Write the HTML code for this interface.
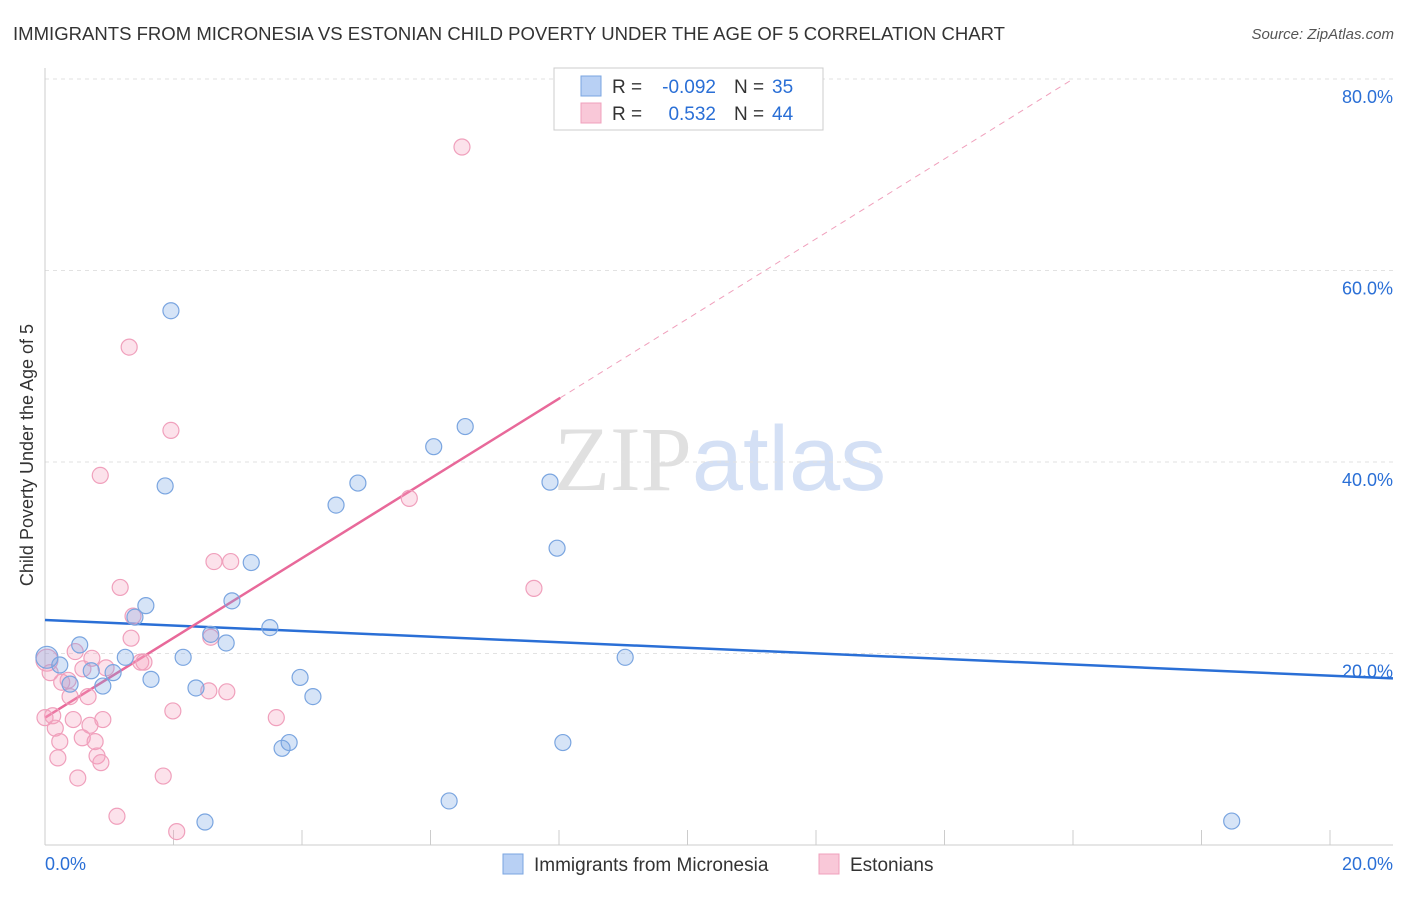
<!DOCTYPE html>
<html><head><meta charset="utf-8"><style>
body{margin:0;background:#fff;font-family:"Liberation Sans",sans-serif;}
</style></head><body>
<svg id="chart" width="1406" height="892" xmlns="http://www.w3.org/2000/svg" font-family="Liberation Sans, sans-serif">
<text x="13" y="40" font-size="18" fill="#333" textLength="992" lengthAdjust="spacingAndGlyphs">IMMIGRANTS FROM MICRONESIA VS ESTONIAN CHILD POVERTY UNDER THE AGE OF 5 CORRELATION CHART</text>
<text x="1394" y="39" font-size="15" fill="#555" text-anchor="end" font-style="italic">Source: ZipAtlas.com</text>
<text x="720" y="490" font-size="92" text-anchor="middle" fill="#ddd" opacity="0.6"><tspan font-family="Liberation Serif, serif" fill="#ccc">ZIP</tspan><tspan fill="#b8cdf0">atlas</tspan></text>
<text transform="translate(33,455) rotate(-90)" font-size="18" fill="#333" text-anchor="middle">Child Poverty Under the Age of 5</text>
<g id="grid"></g><g id="axes"></g><g id="lines"></g><g id="pts"></g>
<g>
<rect x="554" y="68" width="269" height="62" fill="#fff" stroke="#ccc"/>
<rect x="581" y="76" width="20" height="20" fill="#b8d0f4" stroke="#7aa5e0"/>
<rect x="581" y="103" width="20" height="20" fill="#f9c8d8" stroke="#f0a0bc"/>
<text x="612" y="93" font-size="19" fill="#333">R =</text>
<text x="716" y="93" font-size="19" fill="#2a6fd6" text-anchor="end">-0.092</text>
<text x="734" y="93" font-size="19" fill="#333">N =</text>
<text x="772" y="93" font-size="19" fill="#2a6fd6">35</text>
<text x="612" y="120" font-size="19" fill="#333">R =</text>
<text x="716" y="120" font-size="19" fill="#2a6fd6" text-anchor="end">0.532</text>
<text x="734" y="120" font-size="19" fill="#333">N =</text>
<text x="772" y="120" font-size="19" fill="#2a6fd6">44</text>
</g>
<g>
<rect x="503" y="854" width="20" height="20" fill="#b8d0f4" stroke="#7aa5e0"/>
<text x="534" y="871" font-size="19" fill="#333">Immigrants from Micronesia</text>
<rect x="819" y="854" width="20" height="20" fill="#f9c8d8" stroke="#f0a0bc"/>
<text x="850" y="871" font-size="19" fill="#333">Estonians</text>
</g>
</svg>
<script>
const xTicks=[0,2,4,6,8,10,12,14,16,18,20];
const yTicks=[20,40,60,80];
const blueX=[0.03,0.23,0.39,0.54,0.72,0.90,1.06,1.25,1.57,1.65,1.87,1.96,2.15,2.35,2.58,2.82,2.91,3.21,3.50,3.69,3.80,3.97,4.17,4.53,4.87,6.05,6.29,6.54,7.86,7.97,8.06,9.03,18.47,2.49,1.40];
const blueY=[19.6,18.8,16.8,20.9,18.2,16.6,18.0,19.6,25.0,17.3,37.5,55.8,19.6,16.4,22.0,21.1,25.5,29.5,22.7,10.1,10.7,17.5,15.5,35.5,37.8,41.6,4.6,43.7,37.9,31.0,10.7,19.6,2.5,2.4,23.8];
const pinkX=[0.03,0.08,0.12,0.16,0.20,0.23,0.26,0.36,0.39,0.44,0.47,0.51,0.58,0.59,0.67,0.70,0.73,0.78,0.81,0.86,0.87,0.90,0.95,1.12,1.17,1.31,1.34,1.37,1.49,1.54,1.84,1.96,1.99,2.05,2.55,2.58,2.63,2.83,2.89,3.60,5.67,6.49,7.61,0.0];
const pinkY=[19.3,18.0,13.5,12.2,9.1,10.8,17.0,17.2,15.5,13.1,20.2,7.0,11.2,18.4,15.5,12.5,19.5,10.8,9.3,38.6,8.6,13.1,18.5,3.0,26.9,52.0,21.6,23.9,19.1,19.1,7.2,43.3,14.0,1.4,16.1,21.7,29.6,16.0,29.6,13.3,36.2,72.9,26.8,13.3];
const blueLine=[23.5,17.4];
const pinkLine=[13.3,46.7,80.0];
const X=v=>45+v*64.25, Y=v=>845-v*9.575;
const NS="http://www.w3.org/2000/svg";
function mk(p,t,a){const e=document.createElementNS(NS,t);for(const k in a)e.setAttribute(k,a[k]);document.getElementById(p).appendChild(e);return e;}
yTicks.forEach(t=>{
 const l=mk('grid','line',{x1:45,x2:1393,y1:Y(t),y2:Y(t),stroke:'#e2e2e2','stroke-dasharray':'4,4'});
 
 
 const tx=mk('grid','text',{x:1393,y:Y(t)+24,'font-size':18,fill:'#2a6fd6','text-anchor':'end'});
 tx.textContent=t.toFixed(1)+'%';
 
 
});
const ax=mk('axes','line',{x1:45,x2:45,y1:68,y2:845,stroke:'#ccc'});


const bx=mk('axes','line',{x1:45,x2:1393,y1:845,y2:845,stroke:'#ccc'});


xTicks.forEach(t=>{
 const l=mk('axes','line',{x1:X(t),x2:X(t),y1:830,y2:845,stroke:'#ccc'});
 
 
});
[[0,'start',45],[20,'end',1393]].forEach(([t,a,px])=>{
 const tx=mk('axes','text',{x:px,y:870,'font-size':18,fill:'#2a6fd6','text-anchor':a});
 tx.textContent=t.toFixed(1)+'%';
 
 
});
function pts(xs,ys,fill,stroke,name){
 xs.forEach((x,i)=>{
  const c=mk('pts','circle',{cx:X(x),cy:Y(ys[i]),r:(i===0?11:8),fill:fill,stroke:stroke,'stroke-width':1.2});
  
  
 });
}
pts(pinkX,pinkY,'rgba(244,160,190,0.3)','#f0a0bc','estonians-point');
pts(blueX,blueY,'rgba(120,165,230,0.3)','#7aa5e0','micronesia-point');
const bl=mk('lines','line',{x1:X(0),y1:Y(blueLine[0]),x2:X(20.98),y2:Y(blueLine[1]),stroke:'#2a6fd6','stroke-width':2.5});


const pl=mk('lines','line',{x1:X(0),y1:Y(pinkLine[0]),x2:X(8.02),y2:Y(pinkLine[1]),stroke:'#e8699a','stroke-width':2.5});


const pd=mk('lines','line',{x1:X(8.02),y1:Y(pinkLine[1]),x2:X(16),y2:Y(pinkLine[2]),stroke:'#f0a0bc','stroke-width':1,'stroke-dasharray':'6,5'});


</script>
</body></html>
